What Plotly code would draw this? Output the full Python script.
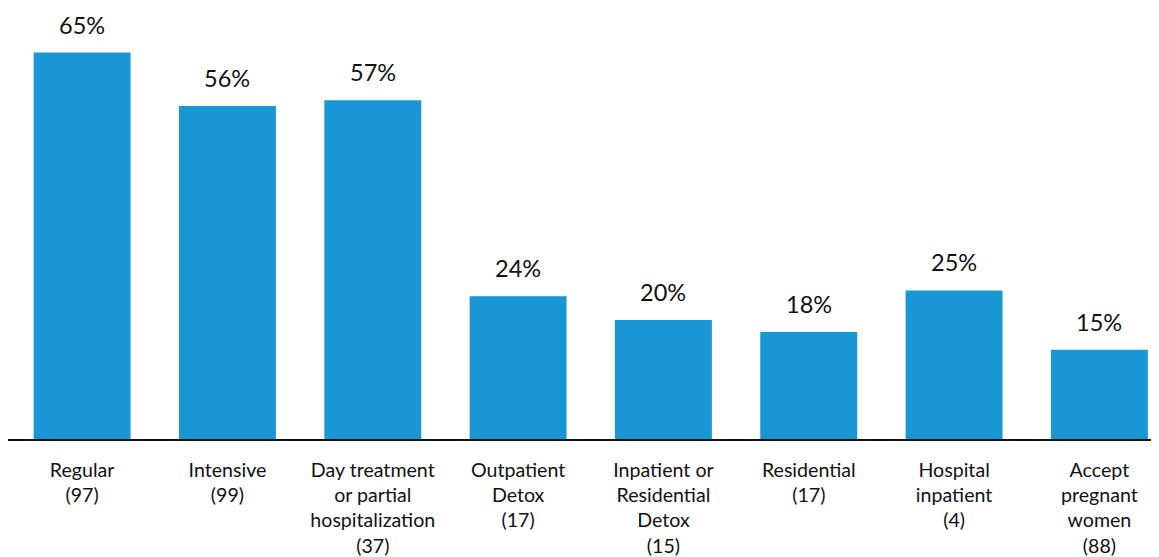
import plotly.graph_objects as go

categories = [
    "Regular<br>(97)",
    "Intensive<br>(99)",
    "Day treatment<br>or partial<br>hospitalization<br>(37)",
    "Outpatient<br>Detox<br>(17)",
    "Inpatient or<br>Residential<br>Detox<br>(15)",
    "Residential<br>(17)",
    "Hospital<br>inpatient<br>(4)",
    "Accept<br>pregnant<br>women<br>(88)",
]
values = [65, 56, 57, 24, 20, 18, 25, 15]
value_labels = ["65%", "56%", "57%", "24%", "20%", "18%", "25%", "15%"]

fig = go.Figure()
fig.add_trace(go.Bar(
    x=categories,
    y=values,
    marker=dict(color="#1997D4", line=dict(width=0)),
    width=0.667,
    hoverinfo="skip",
))
for c, v, t in zip(categories, values, value_labels):
    fig.add_annotation(
        x=c, y=v, text=t, showarrow=False, yanchor="bottom", yshift=12,
        font=dict(family="Lato", size=23.5, color="#111111"),
    )

fig.update_layout(
    width=1151, height=549,
    margin=dict(l=0, r=0, t=0, b=114),
    paper_bgcolor="white", plot_bgcolor="white",
    showlegend=False,
    font=dict(family="Lato", size=19.6, color="#111111"),
    xaxis=dict(
        range=[-0.51, 7.41],
        showline=True, linecolor="#111111", linewidth=2,
        showgrid=False, ticks="", tickfont=dict(family="Lato", size=19.6, color="#111111"),
        ticklabelstandoff=12,
    ),
    yaxis=dict(range=[0, 72.5], visible=False, showgrid=False),
)

fig.write_html("out.html")
